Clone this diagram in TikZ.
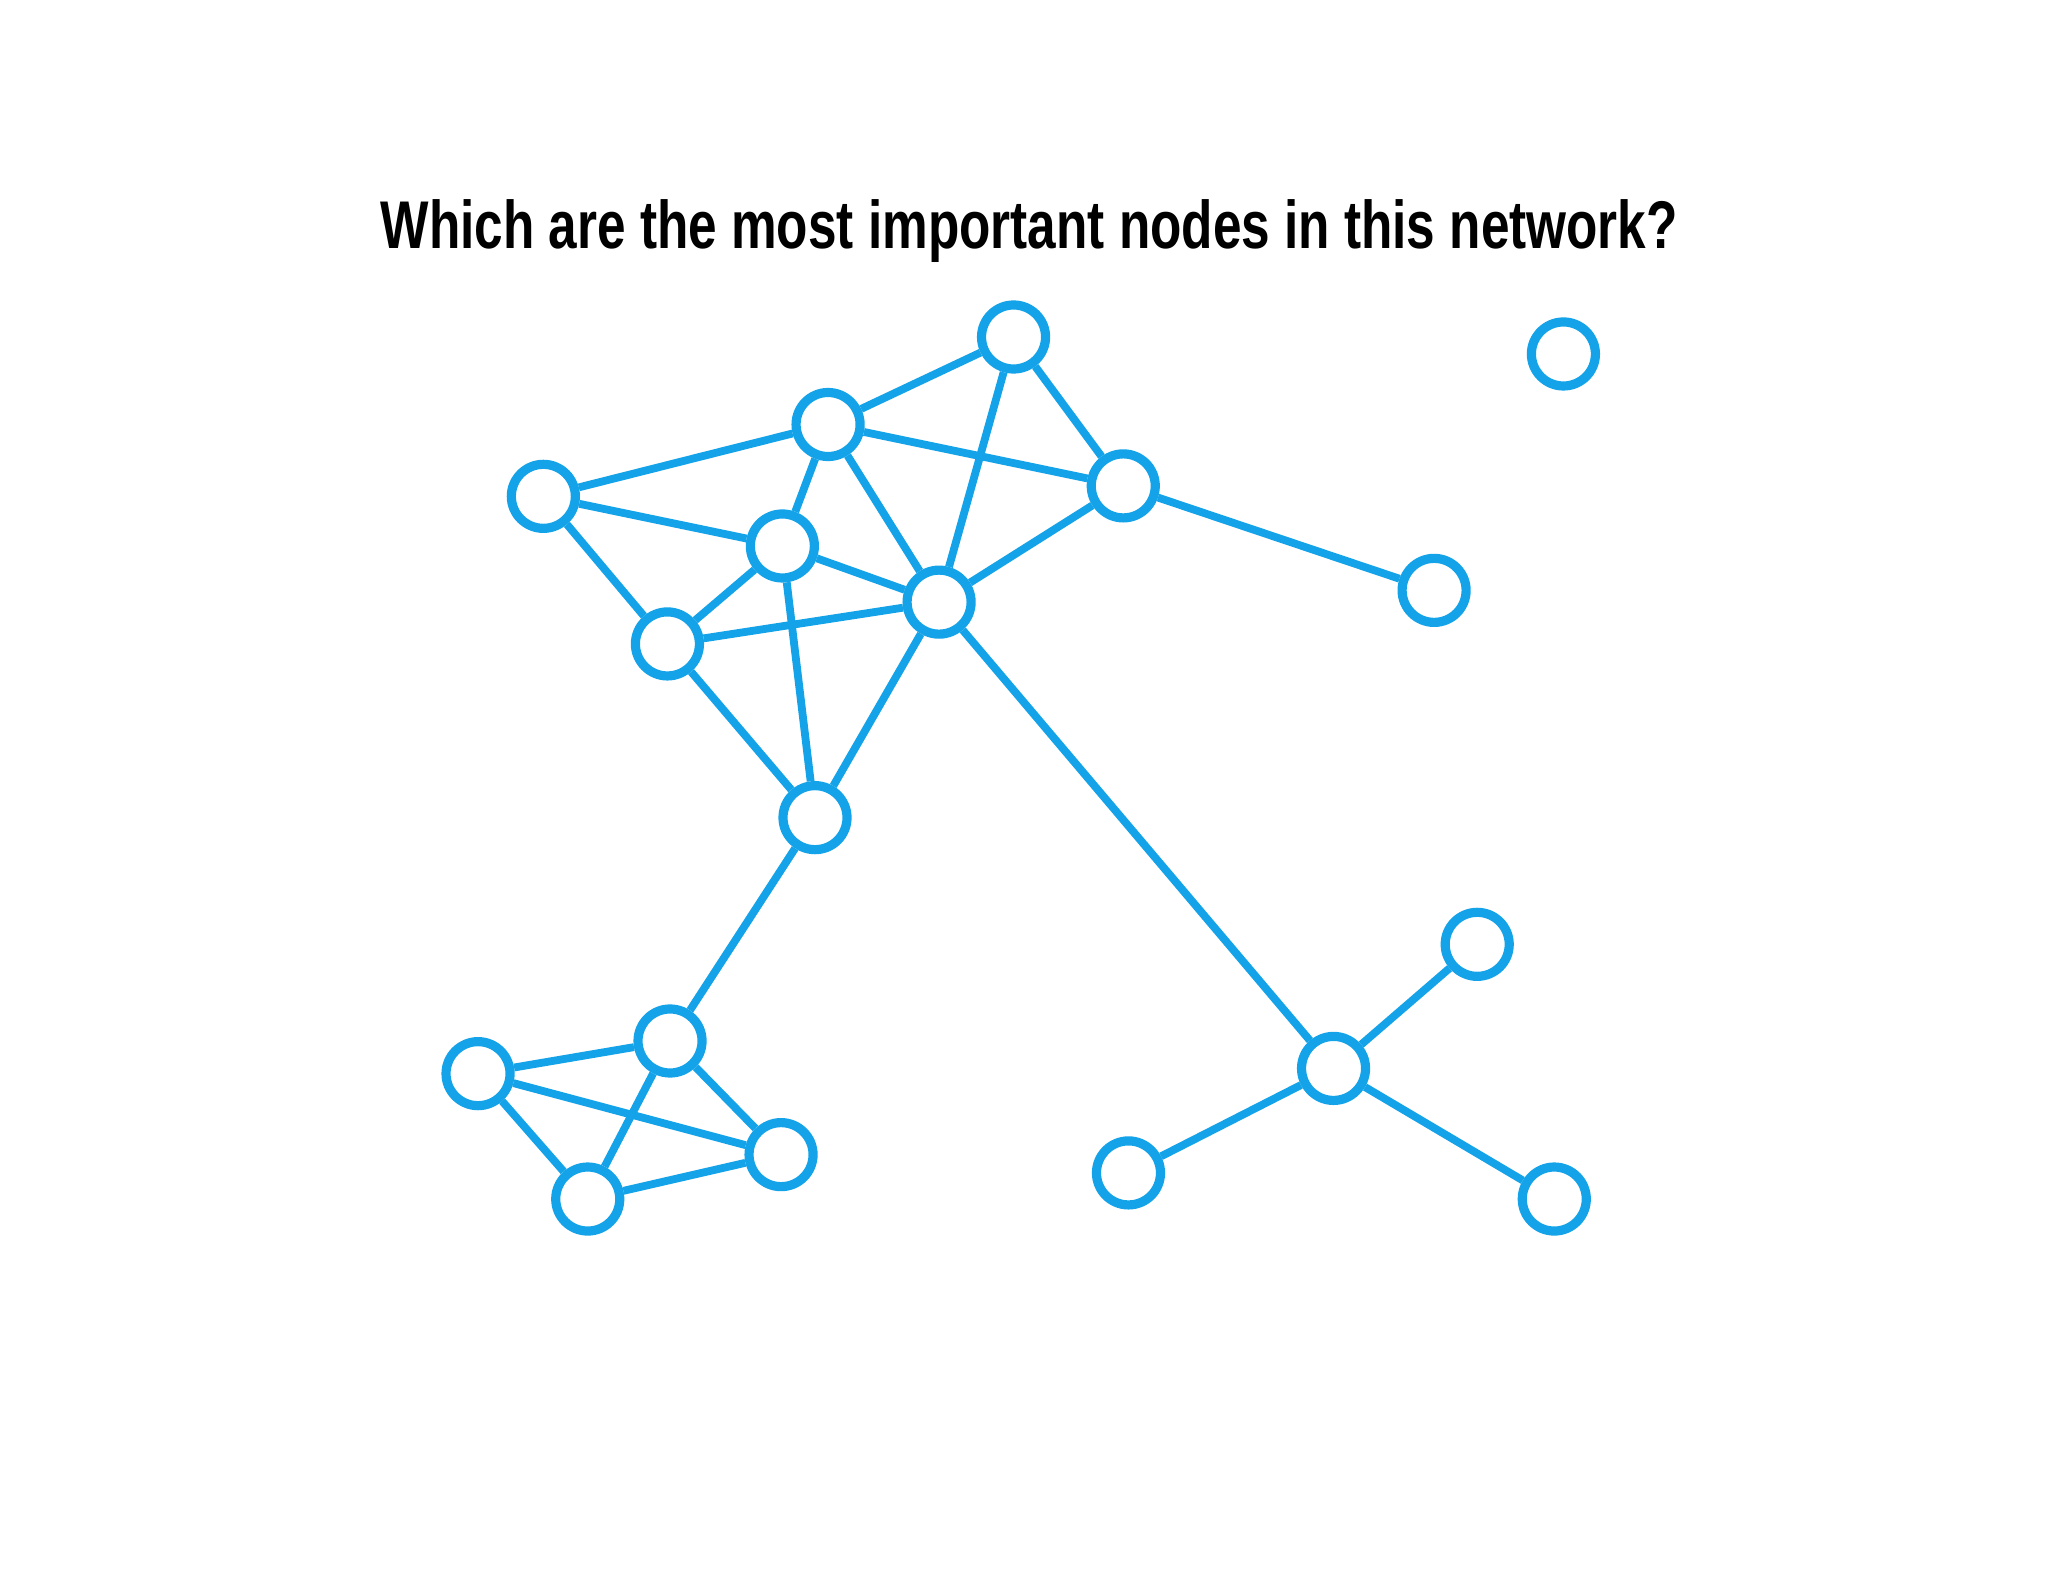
\documentclass[tikz,border=0pt]{standalone}
\usepackage{fontspec}
\setmainfont{Liberation Sans}[FakeStretch=0.76]
\definecolor{netblue}{RGB}{20,163,232}
\tikzset{
  vertex/.style={circle,draw=netblue,fill=white,line width=2pt,minimum size=0.49cm,inner sep=0pt},
  link/.style={netblue,line width=1.7pt}
}
\begin{document}
\begin{tikzpicture}[x=0.01cm,y=-0.01cm]
      \useasboundingbox (0,0) rectangle (1568,1211);
      \node[anchor=base,font=\fontsize{14.7}{17}\selectfont\bfseries] (title) at (788,190) {Which are the most important nodes in this network?};

      % upper cluster
      \node[vertex] (top) at (776,258) {};
      \node[vertex] (upper) at (634,325) {};
      \node[vertex] (left) at (416,380) {};
      \node[vertex] (mid) at (599,418) {};
      \node[vertex] (hub) at (719,461) {};
      \node[vertex] (right) at (860,372) {};
      \node[vertex] (far) at (1098,452) {};
      \node[vertex] (lone) at (1197,271) {};
      \node[vertex] (low) at (511,493) {};
      \node[vertex] (bridge) at (624,626) {};

      % lower left cluster
      \node[vertex] (kA) at (513,797) {};
      \node[vertex] (kB) at (366,822) {};
      \node[vertex] (kC) at (598,884) {};
      \node[vertex] (kD) at (450,918) {};

      % star
      \node[vertex] (star) at (1021,818) {};
      \node[vertex] (sA) at (1131,723) {};
      \node[vertex] (sB) at (864,898) {};
      \node[vertex] (sC) at (1190,918) {};

      \draw[link] (top) -- (upper);
      \draw[link] (top) -- (right);
      \draw[link] (top) -- (hub);
      \draw[link] (upper) -- (left);
      \draw[link] (upper) -- (right);
      \draw[link] (upper) -- (mid);
      \draw[link] (upper) -- (hub);
      \draw[link] (left) -- (mid);
      \draw[link] (left) -- (low);
      \draw[link] (mid) -- (low);
      \draw[link] (mid) -- (hub);
      \draw[link] (mid) -- (bridge);
      \draw[link] (low) -- (hub);
      \draw[link] (low) -- (bridge);
      \draw[link] (hub) -- (right);
      \draw[link] (hub) -- (bridge);
      \draw[link] (hub) -- (star);
      \draw[link] (right) -- (far);
      \draw[link] (bridge) -- (kA);
      \draw[link] (kA) -- (kB);
      \draw[link] (kA) -- (kC);
      \draw[link] (kA) -- (kD);
      \draw[link] (kB) -- (kC);
      \draw[link] (kB) -- (kD);
      \draw[link] (kD) -- (kC);
      \draw[link] (star) -- (sA);
      \draw[link] (star) -- (sB);
      \draw[link] (star) -- (sC);
    \end{tikzpicture}
\end{document}
